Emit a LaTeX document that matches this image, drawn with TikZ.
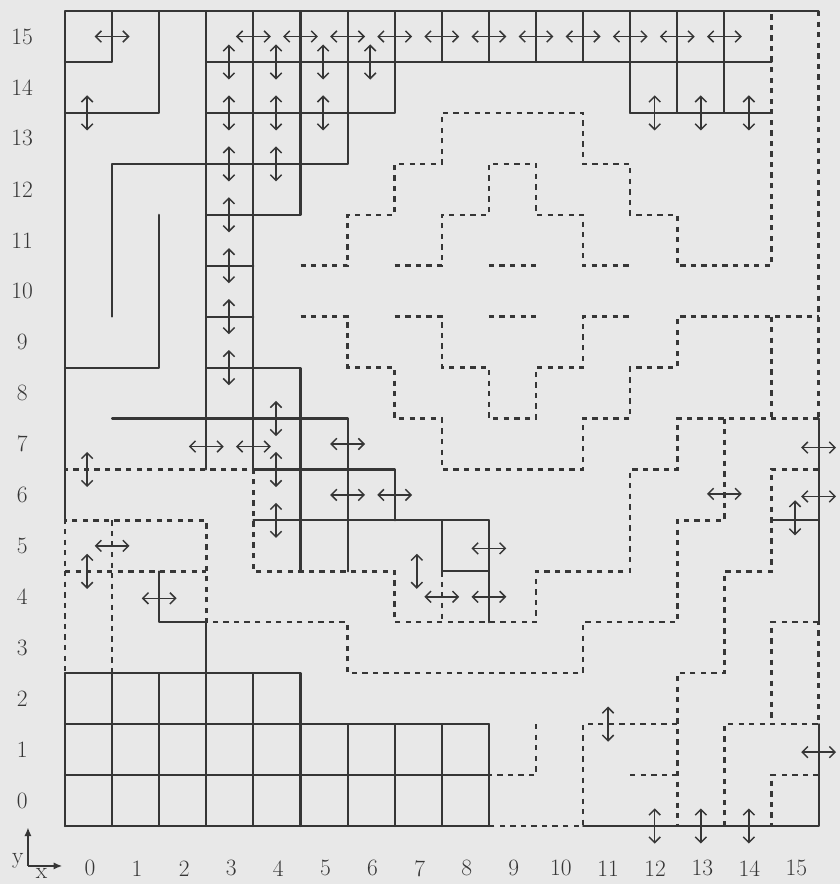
\documentclass[tikz,border=0pt]{standalone}
\usetikzlibrary{arrows.meta}
\definecolor{bg}{HTML}{E8E8E8}
\definecolor{ink}{HTML}{363636}
\begin{document}
\begin{tikzpicture}[x=1.413cm, y=1.528cm,
  wall/.style={line width=1.8pt, draw=ink, line cap=round, line join=round},
  dwall/.style={line width=2.1pt, draw=ink, dash pattern=on 4.5pt off 4.5pt},
  darr/.style={line width=1.25pt, draw=ink, {Straight Barb[length=1.7mm,width=3.4mm]}-{Straight Barb[length=1.7mm,width=3.4mm]}},
  axarr/.style={line width=1.3pt, draw=ink, -{Latex[length=2.6mm,width=2.2mm]}},
  lab/.style={font=\fontsize{20}{24}\selectfont, text=ink, inner sep=0pt}]
\fill[bg] (-1.95cm,-1.74cm) rectangle (23.25cm,24.78cm);
\useasboundingbox (-1.95cm,-1.74cm) rectangle (23.25cm,24.78cm);

% ---------- bottom block grid ----------
\foreach \j in {0,1,2} \draw[wall] (0,\j) -- (9,\j);
\draw[wall] (0,3) -- (5,3);
\foreach \i in {0,...,5} \draw[wall] (\i,0) -- (\i,3);
\foreach \i in {6,...,9} \draw[wall] (\i,0) -- (\i,2);

% ---------- solid walls ----------
\draw[wall] (0,6) -- (0,16) -- (16,16);
\draw[wall] (1,16) -- (1,15) -- (0,15);
\draw[wall] (2,16) -- (2,14) -- (0,14);
\draw[wall] (6,16) -- (6,13) -- (1,13) -- (1,10);
\draw[wall] (2,12) -- (2,9) -- (0,9);
\draw[wall] (3,16) -- (3,7);
\draw[wall] (4,16) -- (4,7) -- (7,7) -- (7,6);
\draw[wall] (5,16) -- (5,12) -- (3,12);
\draw[wall] (7,16) -- (7,14) -- (3,14);
\draw[wall] (3,15) -- (15,15);
\foreach \i in {8,...,11} \draw[wall] (\i,16) -- (\i,15);
\foreach \i in {12,13,14} \draw[wall] (\i,16) -- (\i,14);
\draw[wall] (12,14) -- (15,14);
\draw[wall] (3,11) -- (4,11);
\draw[wall] (3,10) -- (4,10);
\draw[wall] (3,9) -- (5,9) -- (5,5);
\draw[wall] (1,8) -- (6,8) -- (6,5);
\draw[wall] (4,6) -- (9,6);
\draw[wall] (8,6) -- (8,5) -- (9,5);
\draw[wall] (9,6) -- (9,4);
\draw[wall] (2,5) -- (2,4) -- (3,4) -- (3,3);
\draw[wall] (16,8) -- (16,4);
\draw[wall] (15,6) -- (16,6);
\draw[wall] (11,0) -- (16,0) -- (16,2);

% ---------- dashed walls ----------
\draw[dwall] (5,11) -- (6,11) -- (6,12) -- (7,12) -- (7,13) -- (8,13) -- (8,14) -- (11,14) -- (11,13) -- (12,13) -- (12,12) -- (13,12) -- (13,11) -- (15,11) -- (15,16);
\draw[dwall] (7,11) -- (8,11) -- (8,12) -- (9,12) -- (9,13) -- (10,13) -- (10,12) -- (11,12) -- (11,11) -- (12,11);
\draw[dwall] (9,11) -- (10,11);
\draw[dwall] (5,10) -- (6,10) -- (6,9) -- (7,9) -- (7,8) -- (8,8) -- (8,7) -- (11,7) -- (11,8) -- (12,8) -- (12,9) -- (13,9) -- (13,10) -- (16,10);
\draw[dwall] (7,10) -- (8,10) -- (8,9) -- (9,9) -- (9,8) -- (10,8) -- (10,9) -- (11,9) -- (11,10) -- (12,10);
\draw[dwall] (9,10) -- (10,10);
\draw[dwall] (15,10) -- (15,8);
\draw[dwall] (16,16) -- (16,8);
\draw[dwall] (16,8) -- (13,8) -- (13,7) -- (12,7) -- (12,5) -- (10,5) -- (10,4) -- (7,4) -- (7,5) -- (4,5) -- (4,7) -- (0,7);
\draw[dwall] (8,5) -- (8,4);
\draw[dwall] (14,8) -- (14,6) -- (13,6) -- (13,4) -- (11,4) -- (11,3) -- (6,3) -- (6,4) -- (3,4) -- (3,6) -- (0,6) -- (0,3);
\draw[dwall] (1,6) -- (1,3);
\draw[dwall] (0,5) -- (3,5);
\draw[dwall] (16,7) -- (15,7) -- (15,5) -- (14,5) -- (14,3) -- (13,3) -- (13,0);
\draw[dwall] (16,4) -- (15,4) -- (15,2);
\draw[dwall] (14,0) -- (14,2) -- (16,2) -- (16,4);
\draw[dwall] (13,2) -- (11,2) -- (11,0) -- (9,0);
\draw[dwall] (12,1) -- (13,1);
\draw[dwall] (16,1) -- (15,1) -- (15,0);
\draw[dwall] (10,2) -- (10,1) -- (9,1);

% ---------- horizontal double arrows ----------
\foreach \p in {(1,15.5),(4,15.5),(5,15.5),(6,15.5),(7,15.5),(8,15.5),(9,15.5),(10,15.5),(11,15.5),(12,15.5),(13,15.5),(14,15.5),
  (3,7.45),(4,7.45),(6,7.5),(6,6.5),(7,6.5),(9,5.45),(8,4.5),(9,4.5),(1,5.5),(2,4.47),(14,6.52),(16,7.43),(16,6.47),(16,1.45)}
  \draw[darr] \p ++(-0.37,0) -- ++(0.74,0);

% ---------- vertical double arrows ----------
\foreach \p in {(0.47,14),(0.47,7),(0.47,5),
  (3.48,15),(3.48,14),(3.48,13),(3.48,12),(3.48,11),(3.48,10),(3.48,9),
  (4.48,15),(4.48,14),(4.48,13),(4.48,8),(4.48,7),(4.48,6),
  (5.48,15),(5.48,14),(6.48,15),(7.47,5),
  (12.52,14),(13.5,14),(14.52,14),(15.5,6.05),(11.53,2),
  (12.52,0),(13.5,0),(14.52,0)}
  \draw[darr] \p ++(0,-0.345) -- ++(0,0.69);

% ---------- labels ----------
\foreach \j in {0,...,15} \node[lab] (r\j) at (-0.91,\j+0.5) {\j};
\foreach \i in {0,...,15} \node[lab] (c\i) at (\i+0.53,-0.83) {\i};

% ---------- axes symbol ----------
\coordinate (ao) at (-0.786,-0.785);
\coordinate (ay) at (-0.786,-0.03);
\coordinate (ax) at (-0.06,-0.785);
\draw[axarr] (ao) -- (ay);
\draw[axarr] (ao) -- (ax);
\node[lab] (ylab) at (-1.0,-0.69) {y};
\node[lab] (xlab) at (-0.5,-0.93) {x};
\end{tikzpicture}
\end{document}
